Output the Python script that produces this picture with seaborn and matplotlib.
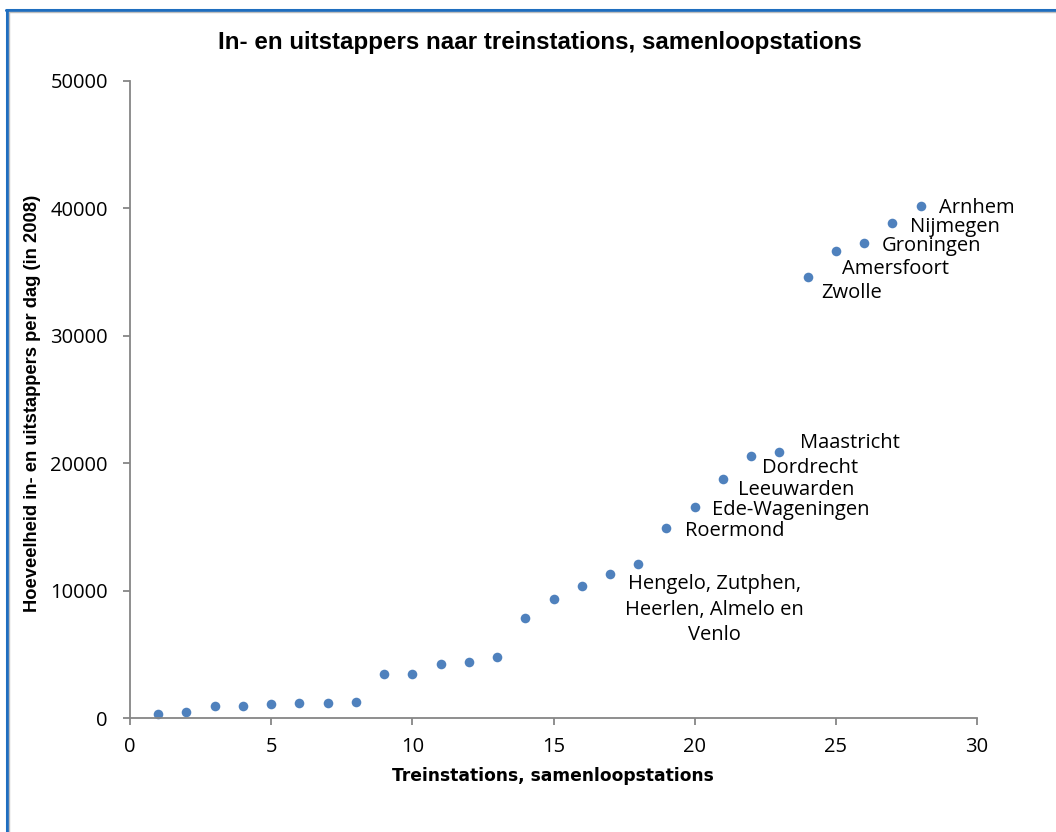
import matplotlib

matplotlib.use("Agg")
import matplotlib.pyplot as plt
import pandas as pd
import seaborn as sns
from matplotlib.lines import Line2D

# station rank (sorted by passengers) and daily in/out passengers in 2008
stations = list(range(1, 29))
passengers = [
    290, 450, 920, 970, 1080, 1160, 1160, 1240, 3420, 3420,
    4220, 4430, 4800, 7880, 9340, 10380, 11330, 12050, 14920, 16550,
    18750, 20600, 20840, 34630, 36620, 37300, 38870, 40170,
]

label_names = [
    "Arnhem", "Nijmegen", "Groningen", "Amersfoort", "Zwolle",
    "Maastricht", "Dordrecht", "Leeuwarden", "Ede-Wageningen", "Roermond",
    "Hengelo, Zutphen,\nHeerlen, Almelo en\nVenlo",
]
label_points = [28, 27, 26, 25, 24, 23, 22, 21, 20, 19, 18]
# text offsets in pixels from the point (dx, dy, ha, va)
label_offsets = [
    (18, -2, "left", "center"),
    (18, -4, "left", "center"),
    (18, -3, "left", "center"),
    (6, -18, "left", "center"),
    (14, -16, "left", "center"),
    (21, 9, "left", "center"),
    (11, -12, "left", "center"),
    (15, -11, "left", "center"),
    (17, -3, "left", "center"),
    (19, -3, "left", "center"),
    (76, -10, "center", "top"),
]

TITLE = "In- en uitstappers naar treinstations, samenloopstations"
XLABEL = "Treinstations, samenloopstations"
YLABEL = "Hoeveelheid in- en uitstappers per dag (in 2008)"

MARKER = "#4F81BD"
AXIS_GRAY = "#868686"
BODY_FONT = ["Open Sans", "DejaVu Sans"]
WIDE_BOLD_FONT = ["DejaVu Sans"]
NARROW_FONT = ["Liberation Sans Narrow", "Liberation Sans", "DejaVu Sans"]


def main() -> None:
    sns.set_theme(style="white")
    plt.rcParams["font.family"] = BODY_FONT
    plt.rcParams["text.color"] = "black"

    df = pd.DataFrame({"station": stations, "passengers": passengers})

    fig = plt.figure(figsize=(10.56, 8.32), dpi=100)
    ax = fig.add_axes([130 / 1056, 1 - 718 / 832, 847 / 1056, 637 / 832])

    sns.scatterplot(
        data=df,
        x="station",
        y="passengers",
        ax=ax,
        color=MARKER,
        s=48,
        linewidth=0,
        legend=False,
        clip_on=False,
    )

    ax.set_xlim(0, 30)
    ax.set_ylim(0, 50000)
    ax.set_xticks(range(0, 31, 5))
    ax.set_yticks(range(0, 50001, 10000))
    ax.set_xlabel("")
    ax.set_ylabel("")

    for side in ("top", "right"):
        ax.spines[side].set_visible(False)
    for side in ("left", "bottom"):
        ax.spines[side].set_color(AXIS_GRAY)
        ax.spines[side].set_linewidth(1.3)

    ax.tick_params(axis="x", direction="out", length=5, width=1.3,
                   color=AXIS_GRAY, labelsize=14.5, pad=9, labelcolor="black",
                   bottom=True)
    ax.tick_params(axis="y", direction="out", length=5, width=1.3,
                   color=AXIS_GRAY, labelsize=14.5, pad=11, labelcolor="black",
                   left=True)

    lookup = dict(zip(stations, passengers))
    for name, pt, (dx, dy, ha, va) in zip(label_names, label_points, label_offsets):
        ax.annotate(
            name,
            xy=(pt, lookup[pt]),
            xytext=(dx, dy),
            textcoords="offset pixels",
            ha=ha,
            va=va,
            fontsize=14.5,
            color="black",
            linespacing=1.35,
        )

    fig.text(540 / 1056, 1 - 43 / 832, TITLE, ha="center", va="center",
             fontsize=17.4, fontweight="bold", family=NARROW_FONT, color="black")
    fig.text(553 / 1056, 1 - 776 / 832, XLABEL, ha="center", va="center",
             fontsize=12.3, fontweight="bold", family=WIDE_BOLD_FONT, color="black")
    fig.text(33 / 1056, 1 - 403 / 832, YLABEL, ha="center", va="center",
             rotation=90, fontsize=13.2, fontweight="bold", family=NARROW_FONT,
             color="black")

    # chart-area frame: blue top and left edge with a thin grey inner line
    w, h = 1056, 832
    fig.add_artist(Line2D([6 / w, 1], [1 - 10 / h, 1 - 10 / h],
                          transform=fig.transFigure, color="#1F6EBF", lw=2.2))
    fig.add_artist(Line2D([7 / w, 7 / w], [0, 1 - 10 / h],
                          transform=fig.transFigure, color="#1F6EBF", lw=2.2))
    fig.add_artist(Line2D([9 / w, 1], [1 - 12 / h, 1 - 12 / h],
                          transform=fig.transFigure, color="#BFBFBF", lw=1))
    fig.add_artist(Line2D([9 / w, 9 / w], [0, 1 - 12 / h],
                          transform=fig.transFigure, color="#BFBFBF", lw=1))

    fig.savefig("out.png", dpi=100)
    plt.close(fig)


if __name__ == "__main__":
    main()
